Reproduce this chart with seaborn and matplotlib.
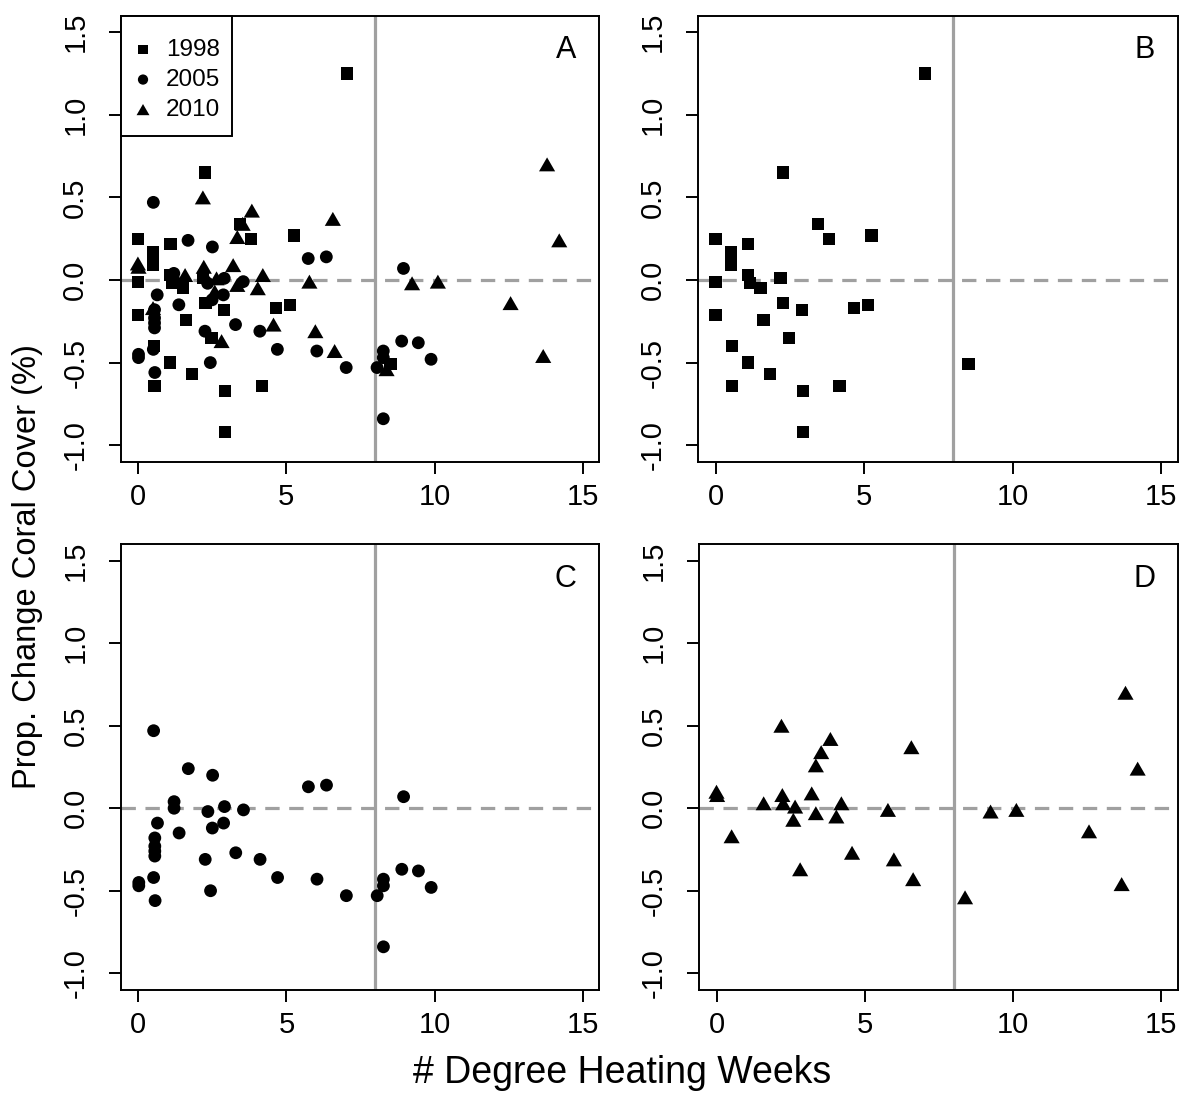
import matplotlib
matplotlib.use("Agg")
import matplotlib.pyplot as plt
from matplotlib.patches import Rectangle
import seaborn as sns
import pandas as pd
import numpy as np

# degree heating weeks (x) and proportional change in coral cover (y), per bleaching year
dhw_1998 = [7.05, 2.27, 3.44, 3.81, 5.25, 0.0, 1.10, 0.51, 0.51, 0.51, 0.0, 1.10, 1.17, 1.51, 2.19,
            2.28, 2.90, 4.65, 5.13, 0.0, 1.61, 2.48, 0.55, 1.09, 1.83, 0.56, 2.94, 4.17, 2.94, 8.51]
chg_1998 = [1.25, 0.65, 0.34, 0.25, 0.27, 0.25, 0.22, 0.17, 0.13, 0.09, -0.01, 0.03, -0.02, -0.05, 0.01,
            -0.14, -0.18, -0.17, -0.15, -0.21, -0.24, -0.35, -0.40, -0.50, -0.57, -0.64, -0.67, -0.64, -0.92, -0.51]

dhw_2005 = [0.52, 1.69, 2.51, 5.74, 6.35, 1.21, 1.21, 2.35, 2.91, 3.55, 0.65, 2.88, 2.50, 1.38, 0.56,
            0.56, 0.56, 0.56, 2.26, 3.29, 4.11, 0.52, 0.02, 0.02, 4.70, 6.03, 2.44, 0.57, 7.02, 8.95,
            8.89, 9.45, 8.27, 8.27, 9.88, 8.06, 8.27]
chg_2005 = [0.47, 0.24, 0.20, 0.13, 0.14, 0.04, 0.00, -0.02, 0.01, -0.01, -0.09, -0.09, -0.12, -0.15, -0.18,
            -0.23, -0.26, -0.29, -0.31, -0.27, -0.31, -0.42, -0.45, -0.47, -0.42, -0.43, -0.50, -0.56, -0.53, 0.07,
            -0.37, -0.38, -0.43, -0.47, -0.48, -0.53, -0.84]

dhw_2010 = [0.0, 0.02, 0.51, 2.19, 1.59, 2.22, 2.25, 2.65, 2.59, 2.82, 3.84, 3.53, 3.35, 3.21, 3.35,
            4.21, 4.04, 4.57, 5.78, 5.98, 6.57, 6.63, 13.79, 14.20, 9.24, 10.11, 12.56, 13.66, 8.38]
chg_2010 = [0.10, 0.08, -0.17, 0.50, 0.03, 0.08, 0.03, 0.01, -0.07, -0.37, 0.42, 0.34, 0.26, 0.09, -0.03,
            0.03, -0.05, -0.27, -0.01, -0.31, 0.37, -0.43, 0.70, 0.24, -0.02, -0.01, -0.14, -0.46, -0.54]

years = ["1998", "2005", "2010"]
panel_letters = ["A", "B", "C", "D"]
x_ticks = [0, 5, 10, 15]
y_ticks = [-1.0, -0.5, 0.0, 0.5, 1.0, 1.5]

df = pd.concat([
    pd.DataFrame({"dhw": dhw_1998, "change": chg_1998, "year": "1998"}),
    pd.DataFrame({"dhw": dhw_2005, "change": chg_2005, "year": "2005"}),
    pd.DataFrame({"dhw": dhw_2010, "change": chg_2010, "year": "2010"}),
], ignore_index=True)

sns.set_theme(style="white")
plt.rcParams["font.family"] = ["Liberation Sans", "DejaVu Sans"]

tri = [(-1, -0.866), (1, -0.866), (0, 0.866)]
marker_for = {"1998": "s", "2005": "o", "2010": tri}
size_for = {"1998": 78, "2005": 85, "2010": 135}

W, H = 1184, 1093
fig = plt.figure(figsize=(W / 100, H / 100), dpi=100)

def px_axes(left, top, right, bottom):
    return fig.add_axes([left / W, 1 - bottom / H, (right - left) / W, (bottom - top) / H])

axes = [
    px_axes(120.7, 15.7, 599.3, 461.7),
    px_axes(698.3, 15.7, 1177.7, 461.7),
    px_axes(121.0, 544.3, 599.3, 989.7),
    px_axes(699.3, 544.3, 1177.7, 989.7),
]
panel_years = [years, ["1998"], ["2005"], ["2010"]]

for ax, letter, yrs in zip(axes, panel_letters, panel_years):
    ax.axvline(8, color="#a0a0a0", lw=2.3, zorder=1)
    ax.axhline(0, color="#a0a0a0", lw=2.3, ls=(0, (4.5, 3)), zorder=1)
    for yr in yrs:
        sub = df[df["year"] == yr]
        sns.scatterplot(data=sub, x="dhw", y="change", marker=marker_for[yr], s=size_for[yr],
                        color="black", edgecolor="none", linewidth=0, ax=ax, zorder=3,
                        label=yr if letter == "A" else None)
    ax.set_xlim(-0.58, 15.55)
    ax.set_ylim(-1.10, 1.60)
    ax.set_xticks(x_ticks)
    ax.set_yticks(y_ticks)
    ax.set_xticklabels([str(t) for t in x_ticks])
    ax.set_yticklabels([f"{t:.1f}" for t in y_ticks], rotation=90, va="center")
    ax.tick_params(axis="both", direction="out", length=8.6, width=1.4, labelsize=21,
                   color="black", labelcolor="black", bottom=True, left=True)
    ax.tick_params(axis="x", pad=7)
    ax.tick_params(axis="y", pad=14)
    for sp in ax.spines.values():
        sp.set_color("black")
        sp.set_linewidth(1.4)
    ax.set_xlabel("")
    ax.set_ylabel("")
    ax.text(0.930, 0.923, letter, transform=ax.transAxes, ha="center", va="center",
            fontsize=22, color="black")
    if letter == "A":
        # legend box drawn separately so the frame matches the original's proportions
        ax.add_patch(Rectangle((0, 0.7303), 0.2332, 0.2697, transform=ax.transAxes,
                               facecolor="white", edgecolor="black", lw=1.4, zorder=4, clip_on=False))
        leg = ax.legend(loc="upper left", bbox_to_anchor=(0.0263, 0.948), borderaxespad=0,
                        borderpad=0, frameon=False, fontsize=17.5, handletextpad=0.55,
                        labelspacing=0.33, handlelength=0.8, markerscale=0.8)
        leg.set_zorder(5)
        for t in leg.get_texts():
            t.set_color("black")
    elif ax.get_legend() is not None:
        ax.get_legend().remove()

fig.text(622 / W, 1 - 1083 / H, "# Degree Heating Weeks", ha="center", va="baseline",
         fontsize=27, color="black")
fig.text(28 / W, 1 - 567 / H, "Prop. Change Coral Cover (%)", ha="center", va="center",
         rotation=90, fontsize=23.5, color="black")

fig.savefig("out.png", dpi=100, facecolor="white")
